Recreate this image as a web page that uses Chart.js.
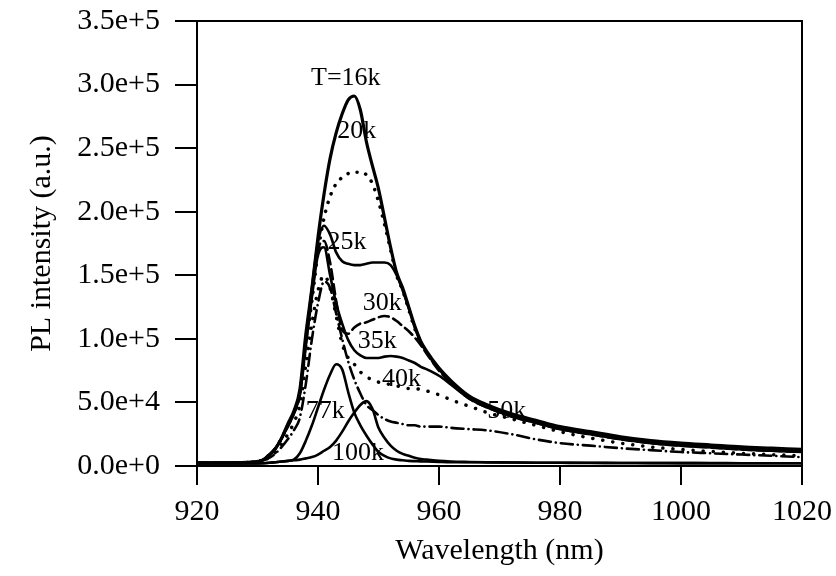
<!DOCTYPE html>
<html>
<head>
<meta charset="utf-8">
<title>PL spectra vs temperature</title>
<script src="https://cdn.jsdelivr.net/npm/chart.js@4/dist/chart.umd.min.js"></script>
<style>
  html, body { margin: 0; padding: 0; background: #fff; }
  #plot { display: block; }
</style>
</head>
<body>
<canvas id="plot" width="836" height="576"></canvas>
<script>
// Wavelength grid (nm) shared by every spectrum
const wavelength = [920,925,929,931,932,933,934,935,936,937,938,939,940,941,942,943,944,945,946,947,948,949,950,951,952,953,954,955,956,957,958,960,962,965,968,972,976,980,985,990,995,1000,1005,1010,1015,1020];

// PL intensity in units of 1e3 counts, one array per temperature
const pl16k  = [2.5,2.5,3,5,9,14,22,33,43,60,104,140,180,214,242,262,277,288,291,280,255,236,218,195,172,152,140,125,110,98,90,77,67,55,48,41,36,31,27,23,20,18,16.5,15,14,13];
const pl20k  = [2.5,2.5,3,5,9,14,22,32,42,58,95,130,168,195,212,222,227,230,231,231,229,222,208,190,170,150,138,123,108,97,89,76,66,54,47,40,35,30,26,22,19,17,15.5,14,13,12];
const pl25k  = [2.5,2.5,3,5,9,14,22,32,42,58,100,140,176,189,182,168,161,159,158,158,159,160,160,160,158,150,138,124,109,97,89,76,66,54,47,40,35,30,26,22,19,17,15.5,14,13,12];
const pl30k  = [2.5,2.5,3,5,9,14,22,31,41,56,96,135,170,177,160,130,107,104,109,112,113,115,117,118,117,114,110,106,101,95,88,75,65,53,46,39,34,29,25,21,18,16,14.5,13,12,11];
const pl35k  = [2.5,2.5,3,5,9,14,22,31,41,56,95,133,166,172,150,128,112,99,91,87,85,85,85,86,86.5,86,85,83,81,78,76,71,64,53,46,39,34,29,25,21,18,16,14.5,13,12,11];
const pl40k  = [2.5,2.5,3,4.5,7,11,17,25,34,48,80,112,138,150,140,118,96,85,80,74,70,68,66,65,64,63,62,61,61,60,59,56,52,47,42,37,32,27,22,18,15,13,11.5,10,9,8];
const pl50k  = [2.5,2.5,3,4.5,6.5,10,15,21,28,38,65,100,128,145,140,120,100,82,68,57,48,44,40,37,35,34,33,32,32,31,31,31,30,29,28,25,21,18,16,14,12.5,11,10,9,8,7];
const pl77k  = [2,2,2,2.2,2.5,3,3.5,4,5,10,20,32,46,60,72,80,76,58,42,32,24,17,11,8,6,5,4.5,4,3.8,3.6,3.5,3.2,3,3,2.8,2.7,2.6,2.5,2.5,2.4,2.4,2.3,2.3,2.2,2.2,2.2];
const pl100k = [2,2,2,2.2,2.5,3,3.5,4,4.5,5,6,7,9,12,15,20,27,35,42,48,51,45,30,22,16,12,9.5,8,6.5,5.5,5,4,3.5,3.2,3,2.8,2.6,2.5,2.4,2.4,2.3,2.3,2.2,2.2,2.2,2.2];

// Axis ticks
const xTicks = [920, 940, 960, 980, 1000, 1020];
const yTicks = [0, 50000, 100000, 150000, 200000, 250000, 300000, 350000];

// Curve labels and their anchors (wavelength nm, intensity)
const labelText = ['T=16k', '20k', '25k', '30k', '35k', '40k', '50k', '77k', '100k'];
const labelWl   = [944.6, 946.4, 944.8, 950.6, 949.8, 953.8, 971.2, 941.2, 946.6];
const labelPl   = [305000, 263000, 176000, 128000, 98000, 68000, 43000, 43000, 10000];

const serif = '"Liberation Serif", "DejaVu Serif", serif';
const scaleK = arr => arr.map((v, i) => ({ x: wavelength[i], y: v * 1000 }));

function series(label, arr, width, dash) {
  return {
    label,
    data: scaleK(arr),
    borderColor: '#000',
    backgroundColor: '#000',
    borderWidth: width,
    borderDash: dash,
    borderCapStyle: dash.length ? 'round' : 'butt',
    borderJoinStyle: 'round',
    pointRadius: 0,
    fill: false,
    cubicInterpolationMode: 'monotone'
  };
}

const frameAndLabels = {
  id: 'frameAndLabels',
  beforeDraw(chart) {
    const { ctx } = chart;
    ctx.save();
    ctx.fillStyle = '#fff';
    ctx.fillRect(0, 0, chart.width, chart.height);
    ctx.restore();
  },
  afterDatasetsDraw(chart) {
    const { ctx, chartArea: a, scales: { x, y } } = chart;
    ctx.save();
    ctx.strokeStyle = '#000';
    ctx.lineWidth = 2;
    ctx.strokeRect(a.left, a.top, a.right - a.left, a.bottom - a.top);
    ctx.fillStyle = '#000';
    ctx.textAlign = 'center';
    ctx.textBaseline = 'middle';
    ctx.font = '26px ' + serif;
    labelText.forEach((t, i) => {
      ctx.fillText(t, x.getPixelForValue(labelWl[i]), y.getPixelForValue(labelPl[i]));
    });
    ctx.restore();
  }
};

new Chart(document.getElementById('plot'), {
  type: 'line',
  data: {
    datasets: [
      series('16k', pl16k, 3.2, []),
      series('20k', pl20k, 3.5, [0.1, 9]),
      series('25k', pl25k, 2.6, []),
      series('30k', pl30k, 2.6, [10, 5]),
      series('35k', pl35k, 2.6, []),
      series('40k', pl40k, 3.5, [0.1, 10]),
      series('50k', pl50k, 2.6, [12, 5, 0.1, 5]),
      series('77k', pl77k, 2.6, []),
      series('100k', pl100k, 2.6, [])
    ]
  },
  options: {
    responsive: false,
    animation: false,
    devicePixelRatio: 1,
    layout: { padding: { top: 21, right: 34, bottom: 0, left: 0 } },
    plugins: { legend: { display: false }, tooltip: { enabled: false } },
    scales: {
      x: {
        type: 'linear',
        min: 920,
        max: 1020,
        afterFit(s) { s.height = 110; s.paddingLeft = 0; s.paddingRight = 0; },
        afterBuildTicks(s) { s.ticks = xTicks.map(v => ({ value: v })); },
        border: { display: true, color: '#000', width: 2 },
        grid: { drawOnChartArea: false, drawTicks: true, tickLength: 19, color: '#000', lineWidth: 2 },
        ticks: { color: '#000', padding: 9, font: { family: serif, size: 30 }, maxRotation: 0, callback: v => String(v) },
        title: { display: true, text: 'Wavelength (nm)', color: '#000', font: { family: serif, size: 30 }, padding: { bottom: 7 } }
      },
      y: {
        type: 'linear',
        min: 0,
        max: 350000,
        afterFit(s) { s.width = 197; s.paddingTop = 0; s.paddingBottom = 0; },
        afterBuildTicks(s) { s.ticks = yTicks.map(v => ({ value: v })); },
        border: { display: true, color: '#000', width: 2 },
        grid: { drawOnChartArea: false, drawTicks: true, tickLength: 22, color: '#000', lineWidth: 2 },
        ticks: {
          color: '#000',
          padding: 15,
          font: { family: serif, size: 30 },
          callback: v => Number(v).toExponential(1)
        },
        title: { display: true, text: 'PL intensity (a.u.)', color: '#000', font: { family: serif, size: 30 }, padding: { top: 24 } }
      }
    }
  },
  plugins: [frameAndLabels]
});
</script>
</body>
</html>
